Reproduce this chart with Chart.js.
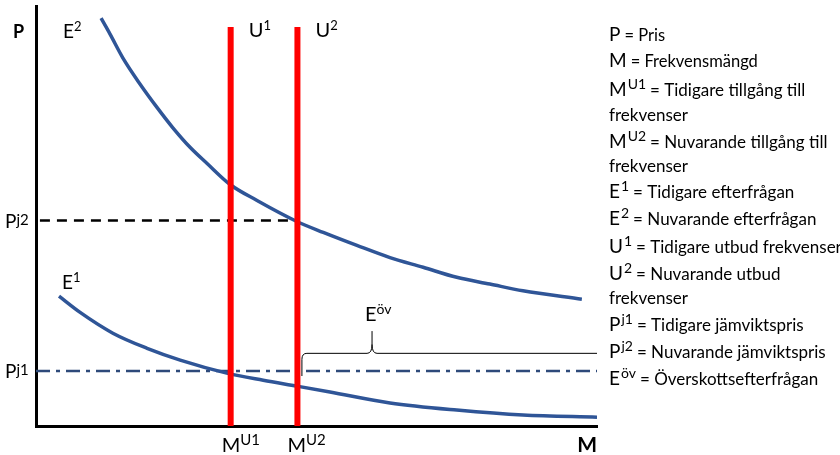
<!DOCTYPE html>
<html>
<head>
<meta charset="utf-8">
<script src="https://cdn.jsdelivr.net/npm/chart.js@4.4.0/dist/chart.umd.min.js"></script>
<style>
  html, body { margin: 0; padding: 0; background: #fff; }
  #wrap { width: 840px; height: 455px; }
</style>
</head>
<body>
<div id="wrap"><canvas id="chart"></canvas></div>
<script>
// axis ranges (arbitrary units, no ticks shown)
const xMin = 0, xMax = 100;
const yMin = 0, yMax = 100;

// E2 - nuvarande efterfrågan
const e2X = [11.6, 13.2, 15.5, 18.5, 21.6, 24.4, 27.5, 30.5, 34.6, 39.4, 46.5, 51.2, 57.2, 63.1, 69.0, 75.0, 80.9, 86.8, 97.3];
const e2Y = [97.1, 93.3, 87.6, 81.5, 75.8, 71.0, 66.3, 62.5, 57.5, 53.7, 48.7, 46.1, 43.0, 40.1, 37.8, 35.4, 33.8, 32.2, 30.2];

// E1 - tidigare efterfrågan
const e1X = [4.1, 7.8, 13.7, 19.8, 25.7, 34.0, 40.5, 46.5, 52.4, 63.1, 75.0, 86.8, 100];
const e1Y = [30.9, 27.1, 22.1, 18.5, 15.7, 12.6, 10.9, 9.5, 8.1, 5.5, 3.8, 2.6, 2.1];

// utbud (vertikala linjer) och jämviktspriser
const u1X = 34.7, u2X = 46.6, uTop = 95.0;
const pj1 = 13.1, pj2 = 48.9;
const pj2Start = 0.7;

// klammer för överskottsefterfrågan
const braceX0 = 47.4, braceBottom = 11.9, braceLevel = 17.3;
const braceTipX = 59.9, braceTipY = 22.6;

const legendRows = [
  ['P', '', '= Pris', 16.5],
  ['M', '', '= Frekvensmängd', 16.5],
  ['M', 'U1', '= Tidigare tillgång till', 17],
  ['', '', 'frekvenser', 17],
  ['M', 'U2', '= Nuvarande tillgång till', 17],
  ['', '', 'frekvenser', 17],
  ['E', '1', '= Tidigare efterfrågan', 17],
  ['E', '2', '= Nuvarande efterfrågan', 17],
  ['U', '1', '= Tidigare utbud frekvenser', 17],
  ['U', '2', '= Nuvarande utbud', 17],
  ['', '', 'frekvenser', 17],
  ['P', 'j1', '= Tidigare jämviktspris', 17],
  ['P', 'j2', '= Nuvarande jämviktspris', 17],
  ['E', 'öv', '= Överskottsefterfrågan', 17]
];

const FONT = 'Lato, "Open Sans", sans-serif';
const toPts = (xs, ys) => xs.map((x, i) => ({ x: x, y: ys[i] }));

function drawRuns(ctx, x, y, runs) {
  let cx = x;
  runs.forEach(([t, size, weight, rise]) => {
    ctx.font = `${weight} ${size}px ${FONT}`;
    ctx.fillText(t, cx, y - rise);
    cx += ctx.measureText(t).width;
  });
  return cx;
}

const labelPlugin = {
  id: 'labels',
  afterDatasetsDraw(chart) {
    const { ctx, scales: { x, y } } = chart;
    ctx.save();
    ctx.fillStyle = '#000';
    ctx.textBaseline = 'alphabetic';
    ctx.textAlign = 'left';

    // axis names
    drawRuns(ctx, 13, 38, [['P', 18, 'bold', 0]]);
    ctx.textAlign = 'right';
    ctx.font = `bold 21px ${FONT}`;
    ctx.fillText('M', x.getPixelForValue(xMax), 452);
    ctx.textAlign = 'left';

    // curve / line labels
    drawRuns(ctx, 63, 38, [['E', 19, 'normal', 0], ['2', 13, 'normal', 7]]);
    drawRuns(ctx, 62, 289, [['E', 19, 'normal', 0], ['1', 13, 'normal', 7]]);
    drawRuns(ctx, x.getPixelForValue(u1X) + 18, 37, [['U', 20, 'normal', 0], ['1', 13, 'normal', 7]]);
    drawRuns(ctx, x.getPixelForValue(u2X) + 18, 37, [['U', 20, 'normal', 0], ['2', 13, 'normal', 7]]);
    drawRuns(ctx, 5, y.getPixelForValue(pj2) + 7, [['P', 19, 'normal', 0], ['j2', 15, 'normal', 3]]);
    drawRuns(ctx, 5, y.getPixelForValue(pj1) + 7, [['P', 19, 'normal', 0], ['j1', 15, 'normal', 3]]);
    drawRuns(ctx, x.getPixelForValue(u1X) - 9, 452, [['M', 20, 'normal', 0], ['U1', 15, 'normal', 7]]);
    drawRuns(ctx, x.getPixelForValue(u2X) - 10, 452, [['M', 20, 'normal', 0], ['U2', 15, 'normal', 7]]);

    // brace + Eöv
    const bx0 = x.getPixelForValue(braceX0), bb = y.getPixelForValue(braceBottom);
    const bl = y.getPixelForValue(braceLevel), tx = x.getPixelForValue(braceTipX);
    const ty = y.getPixelForValue(braceTipY), bx1 = x.getPixelForValue(xMax);
    ctx.strokeStyle = '#000';
    ctx.lineWidth = 1;
    ctx.beginPath();
    ctx.moveTo(bx0, bb);
    ctx.lineTo(bx0, bl + 6);
    ctx.quadraticCurveTo(bx0, bl, bx0 + 5, bl);
    ctx.lineTo(tx - 5, bl);
    ctx.quadraticCurveTo(tx, bl, tx, bl - 9);
    ctx.lineTo(tx, ty);
    ctx.moveTo(tx, bl - 9);
    ctx.quadraticCurveTo(tx, bl, tx + 5, bl);
    ctx.lineTo(bx1, bl);
    ctx.stroke();
    drawRuns(ctx, tx - 7, ty - 10, [['E', 20, 'normal', 0], ['öv', 14, 'normal', 7]]);

    // right-hand explanations
    const lx = 609;
    const baselines = [41, 67, 96, 121, 148, 172, 198, 225, 253, 280, 304, 331, 358, 385];
    legendRows.forEach(([big, sup, text, size], i) => {
      const by = baselines[i];
      let cx = lx;
      if (big) {
        cx = drawRuns(ctx, cx, by, [[big, 19, 'normal', 0]]);
        if (sup) cx = drawRuns(ctx, cx + 1, by, [[sup, 14, 'normal', 7]]);
        cx += 4;
      }
      drawRuns(ctx, cx, by, [[text, size, 'normal', 0]]);
    });
    ctx.restore();
  }
};

new Chart(document.getElementById('chart'), {
  type: 'line',
  data: {
    datasets: [
      { label: 'U1', data: [{ x: u1X, y: yMin }, { x: u1X, y: uTop }], borderColor: '#ff0000', borderWidth: 6 },
      { label: 'U2', data: [{ x: u2X, y: yMin }, { x: u2X, y: uTop }], borderColor: '#ff0000', borderWidth: 6 },
      { label: 'E2', data: toPts(e2X, e2Y), borderColor: '#2f5597', borderWidth: 3.5, cubicInterpolationMode: 'monotone' },
      { label: 'E1', data: toPts(e1X, e1Y), borderColor: '#2f5597', borderWidth: 3.5, cubicInterpolationMode: 'monotone' },
      { label: 'Pj2', data: [{ x: pj2Start, y: pj2 }, { x: u2X, y: pj2 }], borderColor: '#000', borderWidth: 2.5, borderDash: [10, 7] },
      { label: 'Pj1', data: [{ x: xMin, y: pj1 }, { x: xMax, y: pj1 }], borderColor: '#2e4a7a', borderWidth: 2.5, borderDash: [14, 6, 4, 6] }
    ]
  },
  options: {
    responsive: true,
    maintainAspectRatio: false,
    animation: false,
    layout: { padding: { left: 36, right: 243, top: 6, bottom: 29 } },
    elements: { point: { radius: 0 } },
    plugins: { legend: { display: false }, tooltip: { enabled: false } },
    scales: {
      x: {
        type: 'linear', min: xMin, max: xMax,
        ticks: { display: false },
        grid: { display: false, drawTicks: false },
        border: { display: true, color: '#000', width: 3 }
      },
      y: {
        type: 'linear', min: yMin, max: yMax,
        ticks: { display: false },
        grid: { display: false, drawTicks: false },
        border: { display: true, color: '#000', width: 3 }
      }
    }
  },
  plugins: [labelPlugin]
});
</script>
</body>
</html>
